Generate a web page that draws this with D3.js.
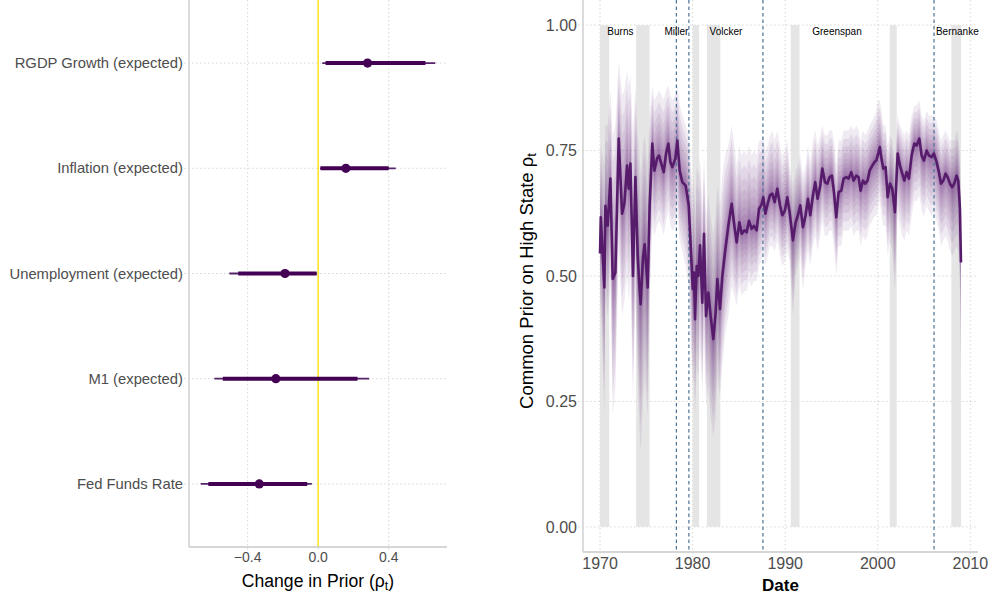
<!DOCTYPE html>
<html><head><meta charset="utf-8">
<script src="https://cdn.jsdelivr.net/npm/d3@7"></script>
<style>body{margin:0;background:#fff}svg{display:block}text{font-family:"Liberation Sans",Arial,Helvetica,sans-serif}</style>
</head><body>
<svg id="c" width="989" height="596"></svg>
<script>
// ---------- Left panel data ----------
const categories = ["RGDP Growth (expected)","Inflation (expected)","Unemployment (expected)","M1 (expected)","Fed Funds Rate"];
const pointEst = [0.28, 0.157, -0.188, -0.24, -0.334];
const thickLo  = [0.042, 0.013, -0.453, -0.541, -0.623];
const thickHi  = [0.608, 0.400, -0.009, 0.223, -0.062];
const thinLo   = [0.023, 0.010, -0.504, -0.589, -0.666];
const thinHi   = [0.664, 0.440, -0.007, 0.289, -0.036];
const leftTicks = [-0.4, 0.0, 0.4];

// ---------- Right panel data ----------
const dates = [1970.00,1970.08,1970.47,1970.58,1970.83,1971.12,1971.37,1971.66,1972.02,1972.38,1972.63,1972.92,1973.10,1973.28,1973.56,1973.82,1974.07,1974.25,1974.39,1974.64,1974.82,1975.15,1975.36,
 1975.65,1975.87,1976.16,1976.37,1976.62,1976.88,1977.13,1977.38,1977.60,1977.81,1978.14,1978.35,1978.60,1978.89,1979.25,1979.58,
 1979.90,1980.01,1980.15,1980.26,1980.44,1980.62,1980.80,1981.05,1981.23,1981.45,1981.70,1981.95,1982.24,1982.49,1982.67,1982.96,1983.21,1983.50,
 1983.86,1984.22,1984.51,1984.76,1985.05,1985.30,1985.59,1985.84,1986.09,1986.38,1986.63,1986.92,1987.17,1987.42,1987.64,1987.86,1988.11,1988.36,1988.61,1988.86,1989.15,1989.44,1989.69,1989.98,1990.23,
 1990.48,1990.84,1991.13,1991.38,1991.63,1991.92,1992.21,1992.46,1992.71,1993.00,1993.25,1993.50,1993.79,1994.01,1994.30,1994.55,1994.80,1995.05,1995.27,1995.52,1995.77,1996.06,1996.31,1996.60,1996.85,1997.14,1997.39,1997.68,1997.93,1998.15,1998.40,1998.65,1998.90,1999.12,1999.41,1999.66,1999.84,2000.06,2000.22,2000.40,
 2000.60,2000.85,2001.07,2001.32,2001.57,2001.86,2002.15,2002.40,2002.65,2002.87,2003.12,2003.37,2003.66,2003.95,2004.20,2004.49,2004.74,2004.99,2005.28,2005.53,2005.82,2006.07,2006.36,2006.61,2006.83,2007.08,2007.33,2007.55,2007.80,2008.05,2008.27,2008.52,2008.70,2008.88,2008.99];
const prior = [0.545,0.617,0.477,0.640,0.600,0.694,0.494,0.507,0.774,0.624,0.644,0.720,0.674,0.724,0.500,0.697,0.540,0.480,0.444,0.537,0.563,0.477,0.641,
 0.764,0.710,0.734,0.740,0.724,0.707,0.744,0.764,0.727,0.717,0.734,0.770,0.710,0.687,0.680,0.641,
 0.520,0.474,0.507,0.414,0.520,0.500,0.561,0.447,0.584,0.420,0.467,0.420,0.374,0.427,0.494,0.434,0.500,0.547,
 0.600,0.644,0.600,0.567,0.607,0.584,0.591,0.587,0.610,0.594,0.600,0.591,0.634,0.641,0.657,0.624,0.644,0.661,0.664,0.647,0.674,0.641,0.621,0.631,0.657,
 0.627,0.571,0.607,0.621,0.641,0.597,0.621,0.654,0.621,0.661,0.687,0.654,0.680,0.714,0.687,0.684,0.697,0.700,0.667,0.617,0.667,0.670,0.694,0.697,0.694,0.707,0.690,0.700,0.697,0.670,0.690,0.684,0.690,0.710,0.720,0.727,0.730,0.745,0.757,0.734,
 0.714,0.717,0.657,0.684,0.674,0.627,0.744,0.720,0.704,0.690,0.707,0.694,0.740,0.764,0.760,0.774,0.740,0.730,0.750,0.740,0.737,0.744,0.727,0.707,0.684,0.690,0.704,0.697,0.684,0.677,0.684,0.700,0.690,0.634,0.527];
const priorHi = [0.70,0.76,0.72,0.80,0.80,0.87,0.78,0.80,0.93,0.86,0.87,0.91,0.88,0.90,0.78,0.88,0.78,0.74,0.70,0.76,0.78,0.72,0.82,
 0.88,0.85,0.86,0.87,0.86,0.85,0.87,0.88,0.86,0.85,0.86,0.88,0.84,0.82,0.80,0.78,
 0.70,0.66,0.70,0.62,0.72,0.70,0.74,0.64,0.74,0.62,0.66,0.62,0.58,0.62,0.68,0.64,0.70,0.74,
 0.76,0.80,0.76,0.72,0.76,0.74,0.75,0.74,0.76,0.74,0.75,0.74,0.77,0.77,0.78,0.75,0.76,0.78,0.79,0.77,0.79,0.76,0.74,0.75,0.77,
 0.72,0.68,0.71,0.72,0.74,0.70,0.72,0.76,0.73,0.77,0.79,0.76,0.78,0.80,0.78,0.78,0.79,0.79,0.77,0.72,0.77,0.77,0.79,0.79,0.79,0.80,0.79,0.80,0.79,0.77,0.79,0.78,0.79,0.80,0.81,0.82,0.83,0.85,0.85,0.83,
 0.80,0.80,0.76,0.78,0.77,0.73,0.82,0.80,0.79,0.78,0.79,0.78,0.82,0.84,0.84,0.85,0.82,0.81,0.83,0.82,0.82,0.82,0.81,0.79,0.77,0.78,0.79,0.78,0.77,0.77,0.77,0.79,0.78,0.74,0.66];
const priorLo = [0.40,0.45,0.22,0.45,0.42,0.48,0.22,0.28,0.55,0.42,0.45,0.50,0.45,0.50,0.25,0.45,0.30,0.20,0.15,0.25,0.30,0.22,0.45,
 0.60,0.58,0.60,0.61,0.60,0.58,0.61,0.63,0.60,0.59,0.60,0.63,0.57,0.55,0.52,0.48,
 0.32,0.28,0.30,0.22,0.32,0.30,0.36,0.26,0.38,0.24,0.28,0.22,0.18,0.22,0.30,0.26,0.32,0.38,
 0.42,0.48,0.46,0.44,0.48,0.46,0.47,0.47,0.49,0.48,0.49,0.49,0.52,0.53,0.55,0.52,0.54,0.56,0.56,0.55,0.57,0.54,0.52,0.53,0.55,
 0.53,0.42,0.50,0.52,0.54,0.47,0.52,0.55,0.52,0.56,0.58,0.55,0.58,0.61,0.58,0.58,0.59,0.59,0.56,0.50,0.56,0.56,0.59,0.59,0.59,0.60,0.58,0.59,0.59,0.56,0.58,0.57,0.58,0.60,0.61,0.62,0.62,0.64,0.65,0.62,
 0.60,0.60,0.54,0.57,0.55,0.47,0.62,0.60,0.58,0.57,0.59,0.58,0.62,0.65,0.65,0.66,0.63,0.62,0.64,0.63,0.62,0.63,0.61,0.59,0.56,0.57,0.58,0.57,0.55,0.54,0.55,0.56,0.55,0.47,0.30];
const recessionStart = [1970.0, 1973.9, 1980.0, 1981.55, 1990.6, 2001.3, 2007.95];
const recessionEnd   = [1971.0, 1975.35, 1980.7, 1983.0, 1991.55, 2002.05, 2009.0];
const chairChange = [1978.25, 1979.6, 1987.6, 2006.08];
const chairNames = ["Burns","Miller","Volcker","Greenspan","Bernanke"];
const chairLabelAt = [1972.2, 1978.25, 1983.6, 1995.6, 2008.6];
const rightXTicks = [1970, 1980, 1990, 2000, 2010];
const rightYTicks = [0, 0.25, 0.5, 0.75, 1.0];

const svg = d3.select("#c");
const GRID = "#d2d2d2", AXIS = "#c9c9c9", TICKTXT = "#4d4d4d", PURPLE = "#440154";
const fmtMinus = v => d3.format(".1f")(v).replace("-", "\u2212");

// ================= LEFT PANEL =================
(function(){
  const L = 189, R = 447, T = 0, B = 547;
  const ext = [d3.min(thinLo), d3.max(thinHi)];
  const pad = (ext[1]-ext[0])*0.05;
  const x = d3.scaleLinear().domain([ext[0]-pad, ext[1]+pad]).range([L, R]);
  const y = d3.scalePoint().domain(categories).range([T, B]).padding(0.6);
  const g = svg.append("g");
  g.selectAll(".gx").data(leftTicks).join("line")
    .attr("x1", d=>x(d)).attr("x2", d=>x(d)).attr("y1", T).attr("y2", B+5)
    .attr("stroke", GRID).attr("stroke-width", 0.9).attr("stroke-dasharray","1.5,2.5");
  g.selectAll(".gy").data(categories).join("line")
    .attr("x1", L-5).attr("x2", R).attr("y1", d=>y(d)).attr("y2", d=>y(d))
    .attr("stroke", GRID).attr("stroke-width", 0.9).attr("stroke-dasharray","1.5,2.5");
  g.append("line").attr("x1", x(0)).attr("x2", x(0)).attr("y1", T).attr("y2", B)
    .attr("stroke", "#FDE725").attr("stroke-width", 1.6);
  const rows = categories.map((c,i)=>({c, p:pointEst[i], a:thickLo[i], b:thickHi[i], lo:thinLo[i], hi:thinHi[i]}));
  g.selectAll(".thin").data(rows).join("line")
    .attr("x1", d=>x(d.lo)).attr("x2", d=>x(d.hi)).attr("y1", d=>y(d.c)).attr("y2", d=>y(d.c))
    .attr("stroke", "#55246a").attr("stroke-width", 1.8);
  g.selectAll(".thick").data(rows).join("line")
    .attr("x1", d=>x(d.a)).attr("x2", d=>x(d.b)).attr("y1", d=>y(d.c)).attr("y2", d=>y(d.c))
    .attr("stroke", PURPLE).attr("stroke-width", 4);
  g.selectAll(".pt").data(rows).join("circle")
    .attr("cx", d=>x(d.p)).attr("cy", d=>y(d.c)).attr("r", 4.6).attr("fill", PURPLE);
  g.append("line").attr("x1", L).attr("x2", L).attr("y1", T).attr("y2", B).attr("stroke", AXIS).attr("stroke-width", 1.3);
  g.append("line").attr("x1", L).attr("x2", R).attr("y1", B).attr("y2", B).attr("stroke", AXIS).attr("stroke-width", 1.3);
  g.selectAll(".yl").data(categories).join("text")
    .attr("x", L-6).attr("y", d=>y(d)).attr("dy","0.35em").attr("text-anchor","end")
    .attr("font-size", 14.8).attr("fill", TICKTXT).text(d=>d);
  g.selectAll(".xl").data(leftTicks).join("text")
    .attr("x", d=>x(d)).attr("y", 562).attr("text-anchor","middle")
    .attr("font-size", 14).attr("fill", TICKTXT).text(d=>fmtMinus(d));
  const t = g.append("text").attr("x", (L+R)/2).attr("y", 587).attr("text-anchor","middle")
    .attr("font-size", 17.6).attr("fill", "#000");
  t.append("tspan").text("Change in Prior (\u03C1");
  t.append("tspan").attr("font-size", 12.5).attr("dy", 3).text("t");
  t.append("tspan").attr("dy", -3).text(")");
})();

// ================= RIGHT PANEL =================
(function(){
  const L = 583, R = 978, T = 0, B = 552;
  const x = d3.scaleLinear().domain([1968.16, 2010.83]).range([L, R]);
  const y = d3.scaleLinear().domain([-0.05, 1.05]).range([B, T]);
  const g = svg.append("g");
  g.selectAll(".gx").data(rightXTicks).join("line")
    .attr("x1", d=>x(d)).attr("x2", d=>x(d)).attr("y1", T).attr("y2", B+5)
    .attr("stroke", GRID).attr("stroke-width", 0.9).attr("stroke-dasharray","1.5,2.5");
  g.selectAll(".gy").data(rightYTicks).join("line")
    .attr("x1", L-5).attr("x2", R).attr("y1", d=>y(d)).attr("y2", d=>y(d))
    .attr("stroke", GRID).attr("stroke-width", 0.9).attr("stroke-dasharray","1.5,2.5");
  g.selectAll(".rec").data(recessionStart.map((s,i)=>[s, recessionEnd[i]])).join("rect")
    .attr("x", d=>x(d[0])).attr("width", d=>x(d[1])-x(d[0]))
    .attr("y", y(1)).attr("height", y(0)-y(1)).attr("fill", "#e5e5e5");
  // fan ribbons (nested quantile-like layers)
  const pts = dates.map((d,i)=>({d, m:prior[i], lo:priorLo[i], hi:priorHi[i]}));
  const levels = [1, 0.82, 0.66, 0.52, 0.4, 0.3, 0.21, 0.14, 0.08];
  levels.forEach(f=>{
    const area = d3.area().x(p=>x(p.d))
      .y0(p=>y(p.m - f*(p.m - p.lo))).y1(p=>y(p.m + f*(p.hi - p.m)));
    g.append("path").datum(pts).attr("d", area).attr("fill", "#5e2478").attr("fill-opacity", 0.095);
  });
  g.selectAll(".ch").data(chairChange).join("line")
    .attr("x1", d=>x(d)).attr("x2", d=>x(d)).attr("y1", T).attr("y2", B)
    .attr("stroke", "#4a7296").attr("stroke-width", 1.2).attr("stroke-dasharray", "3.5,3");
  g.append("path").datum(pts)
    .attr("d", d3.line().x(p=>x(p.d)).y(p=>y(p.m)))
    .attr("fill","none").attr("stroke","#561c6b").attr("stroke-width", 2.6).attr("stroke-linejoin","round");
  g.selectAll(".cl").data(chairNames).join("text")
    .attr("x", (d,i)=>x(chairLabelAt[i])).attr("y", 35).attr("text-anchor","middle")
    .attr("font-size", 10).attr("fill","#000").text(d=>d);
  g.append("line").attr("x1", L).attr("x2", L).attr("y1", T).attr("y2", B).attr("stroke", AXIS).attr("stroke-width", 1.3);
  g.append("line").attr("x1", L).attr("x2", R).attr("y1", B).attr("y2", B).attr("stroke", AXIS).attr("stroke-width", 1.3);
  g.selectAll(".yl").data(rightYTicks).join("text")
    .attr("x", L-6).attr("y", d=>y(d)).attr("dy","0.36em").attr("text-anchor","end")
    .attr("font-size", 16).attr("fill", TICKTXT).text(d=>d3.format(".2f")(d));
  g.selectAll(".xl").data(rightXTicks).join("text")
    .attr("x", d=>x(d)).attr("y", 569).attr("text-anchor","middle")
    .attr("font-size", 16).attr("fill", TICKTXT).text(d=>d);
  g.append("text").attr("x", (L+R)/2).attr("y", 591).attr("text-anchor","middle")
    .attr("font-size", 17).attr("font-weight","bold").attr("fill","#000").text("Date");
  const yt = g.append("text").attr("transform", `translate(533,281) rotate(-90)`)
    .attr("text-anchor","middle").attr("font-size", 18.5).attr("fill","#000");
  yt.append("tspan").text("Common Prior on High State \u03C1");
  yt.append("tspan").attr("font-size", 13).attr("dy", 3).text("t");
})();
</script>
</body></html>
